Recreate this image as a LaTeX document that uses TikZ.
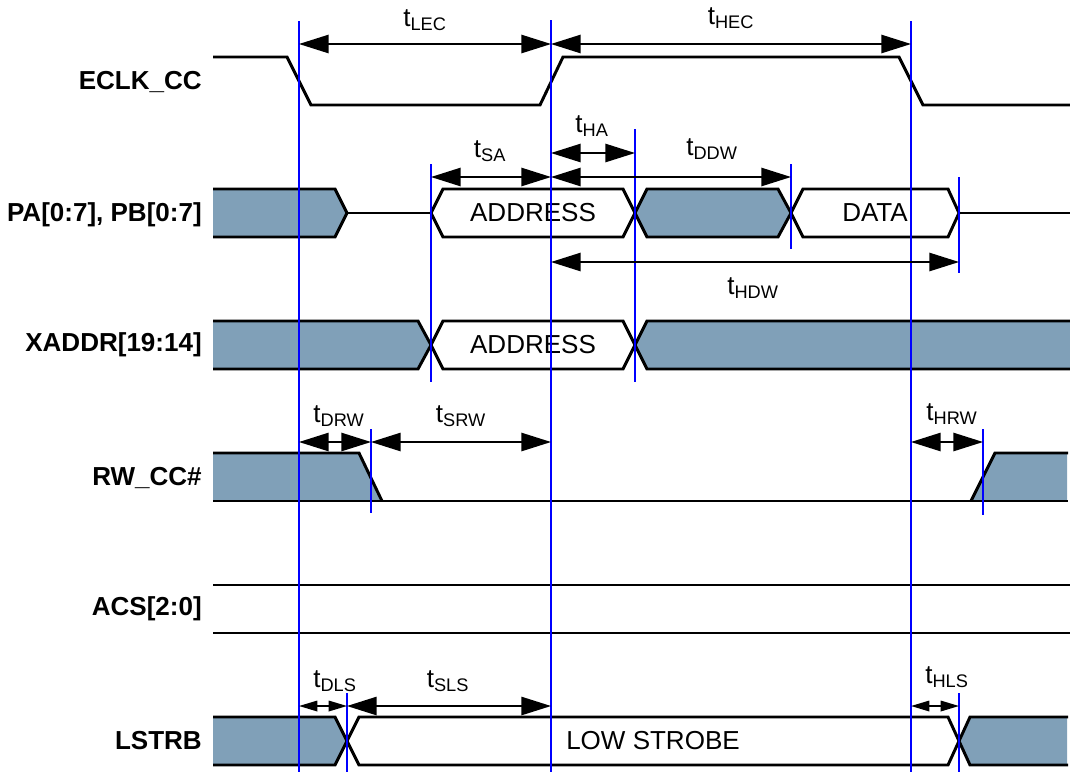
\documentclass[tikz,border=0pt]{standalone}
\usepackage{fontspec}
\setmainfont{Liberation Sans}
\usetikzlibrary{arrows.meta}

\definecolor{busgray}{RGB}{128,160,184}
\definecolor{edgeblue}{RGB}{0,0,255}

\begin{document}
\begin{tikzpicture}[
    x=0.025cm, y=-0.025cm,
    font=\fontsize{18.5pt}{22pt}\selectfont,
    wave/.style={line width=2.1pt},
    bus/.style={fill=busgray},
    tedge/.style={edgeblue, line width=1.3pt},
    dim/.style={{Triangle[length=21pt, width=13pt]}-{Triangle[length=21pt, width=13pt]},
                line width=1.1pt},
    dimsm/.style={{Triangle[length=13pt, width=7.5pt]}-{Triangle[length=13pt, width=7.5pt]},
                  line width=1.1pt},
    sig/.style={font=\fontsize{18.5pt}{22pt}\selectfont\bfseries, anchor=east, inner sep=0pt},
    tlab/.style={inner sep=0pt},
]
    \useasboundingbox (0,0) rectangle (1070,772);

    %==================== ECLK_CC ====================
    \node[sig] (eclk) at (202,82) {ECLK\_CC};
    \draw[wave] (213,57) -- (287,57) -- (311,105) -- (540,105) -- (563,57)
        -- (899,57) -- (923,105) -- (1070,105);

    %==================== PA / PB ====================
    \node[sig] (papb) at (202,215) {PA[0:7], PB[0:7]};
    \fill[bus] (213,189) -- (335,189) -- (347,213) -- (335,237) -- (213,237) -- cycle;
    \draw[wave] (213,189) -- (335,189) -- (347,213) -- (335,237) -- (213,237);
    \draw[wave] (347,213) -- (431,213);
    \draw[wave, fill=white] (431,213) -- (443,189) -- (623,189) -- (635,213)
        -- (623,237) -- (443,237) -- cycle;
    \node (paaddr) at (533,213) {ADDRESS};
    \draw[wave, bus] (635,213) -- (647,189) -- (778,189) -- (791,213)
        -- (778,237) -- (647,237) -- cycle;
    \draw[wave, fill=white] (791,213) -- (803,189) -- (948,189) -- (959,213)
        -- (948,237) -- (803,237) -- cycle;
    \node (padata) at (875,213) {DATA};
    \draw[wave] (959,213) -- (1070,213);

    %==================== XADDR ====================
    \node[sig] (xaddr) at (202,345) {XADDR[19:14]};
    \fill[bus] (213,321) -- (418,321) -- (431,345) -- (418,369) -- (213,369) -- cycle;
    \draw[wave] (213,321) -- (418,321) -- (431,345) -- (418,369) -- (213,369);
    \draw[wave, fill=white] (431,345) -- (443,321) -- (623,321) -- (635,345)
        -- (623,369) -- (443,369) -- cycle;
    \node (xaddrtxt) at (533,345) {ADDRESS};
    \fill[bus] (635,345) -- (647,321) -- (1070,321) -- (1070,369) -- (647,369) -- cycle;
    \draw[wave] (1070,321) -- (647,321) -- (635,345) -- (647,369) -- (1070,369);

    %==================== RW_CC# ====================
    \node[sig] (rw) at (202,478) {RW\_CC\#};
    \fill[bus] (213,453) -- (359,453) -- (382,501) -- (213,501) -- cycle;
    \fill[bus] (971,501) -- (995,453) -- (1067,453) -- (1067,501) -- cycle;
    \draw[wave] (213,453) -- (359,453) -- (382,501);
    \draw[wave] (213,501) -- (1068,501);
    \draw[wave] (971,501) -- (995,453) -- (1068,453);

    %==================== ACS ====================
    \node[sig] (acs) at (202,609) {ACS[2:0]};
    \draw[wave] (213,585) -- (1070,585);
    \draw[wave] (213,633) -- (1070,633);

    %==================== LSTRB ====================
    \node[sig] (lstrb) at (202,741) {LSTRB};
    \fill[bus] (213,717) -- (335,717) -- (347,741) -- (335,765) -- (213,765) -- cycle;
    \draw[wave] (213,717) -- (335,717) -- (347,741) -- (335,765) -- (213,765);
    \draw[wave, fill=white] (347,741) -- (359,717) -- (948,717) -- (959,741)
        -- (948,765) -- (359,765) -- cycle;
    \node (lowstrobe) at (653,741) {LOW STROBE};
    \fill[bus] (959,741) -- (970,717) -- (1067,717) -- (1067,765) -- (970,765) -- cycle;
    \draw[wave] (1068,717) -- (970,717) -- (959,741) -- (970,765) -- (1068,765);

    %==================== timing edges ====================
    \coordinate (eLEC) at (299,0);
    \coordinate (eHEC) at (551,0);
    \coordinate (eEND) at (911,0);
    \coordinate (eSA)  at (431,0);
    \coordinate (eHA)  at (635,0);
    \coordinate (eDDW) at (791,0);
    \coordinate (eHDW) at (959,0);
    \coordinate (eDRW) at (371,0);
    \coordinate (eHRW) at (983,0);
    \coordinate (eDLS) at (347,0);

    \draw[tedge] (eLEC |- 0,21) -- (eLEC |- 0,772);
    \draw[tedge] (eHEC |- 0,20) -- (eHEC |- 0,772);
    \draw[tedge] (eEND |- 0,21) -- (eEND |- 0,772);
    \draw[tedge] (eSA |- 0,164) -- (eSA |- 0,382);
    \draw[tedge] (eHA |- 0,129) -- (eHA |- 0,382);
    \draw[tedge] (eDDW |- 0,164) -- (eDDW |- 0,249);
    \draw[tedge] (eHDW |- 0,177) -- (eHDW |- 0,273);
    \draw[tedge] (eDRW |- 0,429) -- (eDRW |- 0,513);
    \draw[tedge] (eHRW |- 0,429) -- (eHRW |- 0,515);
    \draw[tedge] (eDLS |- 0,693) -- (eDLS |- 0,772);
    \draw[tedge] (eHDW |- 0,693) -- (eHDW |- 0,772);

    %==================== timing arrows ====================
    \draw[dim] (eLEC |- 0,44) -- (eHEC |- 0,44);
    \draw[dim] (eHEC |- 0,44) -- (eEND |- 0,44);
    \draw[dim] (eHEC |- 0,153) -- (eHA |- 0,153);
    \draw[dim] (eSA |- 0,177) -- (eHEC |- 0,177);
    \draw[dim] (eHEC |- 0,177) -- (eDDW |- 0,177);
    \draw[dim] (eHEC |- 0,262) -- (eHDW |- 0,262);
    \draw[dim] (eLEC |- 0,442) -- (eDRW |- 0,442);
    \draw[dim] (eDRW |- 0,442) -- (eHEC |- 0,442);
    \draw[dim] (eEND |- 0,442) -- (eHRW |- 0,442);
    \draw[dimsm] (eLEC |- 0,706) -- (eDLS |- 0,706);
    \draw[dim] (eDLS |- 0,706) -- (eHEC |- 0,706);
    \draw[dimsm] (eEND |- 0,706) -- (eHDW |- 0,706);

    \node[tlab] (tlec) at (425,20) {t\textsubscript{LEC}};
    \node[tlab] (thec) at (731,18) {t\textsubscript{HEC}};
    \node[tlab] (tha)  at (592,126) {t\textsubscript{HA}};
    \node[tlab] (tsa)  at (490,151) {t\textsubscript{SA}};
    \node[tlab] (tddw) at (712,149) {t\textsubscript{DDW}};
    \node[tlab] (thdw) at (753,288) {t\textsubscript{HDW}};
    \node[tlab] (tdrw) at (339,416) {t\textsubscript{DRW}};
    \node[tlab] (tsrw) at (461,416) {t\textsubscript{SRW}};
    \node[tlab] (thrw) at (952,414) {t\textsubscript{HRW}};
    \node[tlab] (tdls) at (335,681) {t\textsubscript{DLS}};
    \node[tlab] (tsls) at (448,681) {t\textsubscript{SLS}};
    \node[tlab] (thls) at (947,677) {t\textsubscript{HLS}};

\end{tikzpicture}
\end{document}
